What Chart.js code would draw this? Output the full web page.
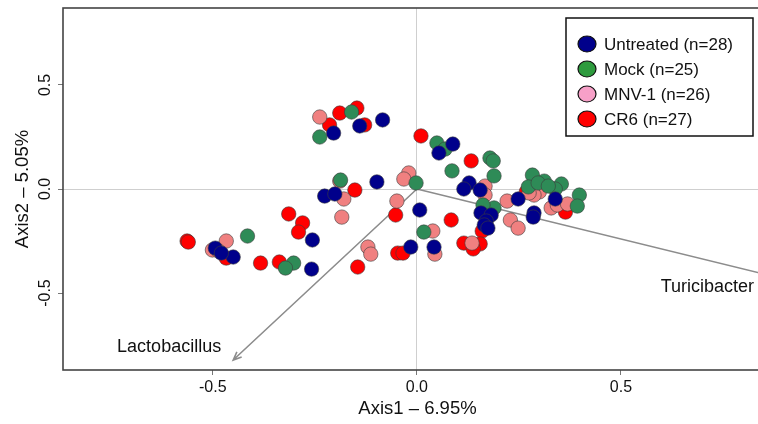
<!DOCTYPE html>
<html>
<head>
<meta charset="utf-8">
<script src="https://cdn.jsdelivr.net/npm/chart.js@4.4.1/dist/chart.umd.min.js"></script>
<style>
  html, body { margin: 0; padding: 0; background: #fff; overflow: hidden; }
</style>
</head>
<body>
<canvas id="pcoa" width="780" height="424"></canvas>
<script>
// PCoA sample scores
var untreated = [
  [-0.204, 0.269], [-0.140, 0.303], [-0.084, 0.332], [-0.098, 0.034], [-0.226, -0.034],
  [-0.201, -0.024], [0.007, -0.101], [-0.256, -0.245], [-0.494, -0.284], [-0.450, -0.327],
  [-0.258, -0.385], [-0.015, -0.279], [0.042, -0.279], [0.088, 0.216], [0.054, 0.173],
  [0.128, 0.029], [0.115, 0.000], [0.155, -0.005], [0.157, -0.115], [0.182, -0.125],
  [0.170, -0.154], [0.165, -0.173], [0.248, -0.048], [0.339, -0.048], [0.287, -0.115],
  [0.285, -0.135], [-0.479, -0.308], [0.174, -0.188]
];
var mock = [
  [-0.160, 0.370], [-0.238, 0.250], [-0.187, 0.043], [-0.002, 0.029], [-0.415, -0.226],
  [-0.302, -0.356], [-0.322, -0.380], [0.049, 0.221], [0.069, 0.192], [0.179, 0.149],
  [0.187, 0.135], [0.086, 0.087], [0.189, 0.063], [0.283, 0.067], [0.312, 0.038],
  [0.354, 0.024], [0.339, 0.000], [0.398, -0.029], [0.393, -0.082], [0.189, -0.091],
  [0.017, -0.207], [0.273, 0.010], [0.297, 0.029], [0.162, -0.077], [0.322, 0.014]
];
var mnv1 = [
  [-0.238, 0.346], [-0.189, 0.038], [-0.020, 0.077], [-0.032, 0.048], [-0.179, -0.048],
  [-0.184, -0.135], [-0.049, -0.058], [-0.467, -0.250], [-0.501, -0.293], [-0.486, -0.298],
  [-0.120, -0.279], [-0.113, -0.313], [0.167, 0.014], [0.167, -0.029], [0.221, -0.058],
  [0.039, -0.202], [0.044, -0.313], [0.135, -0.260], [0.300, -0.014], [0.287, -0.029],
  [0.275, -0.019], [0.329, -0.091], [0.344, -0.077], [0.369, -0.072], [0.229, -0.149],
  [0.248, -0.188]
];
var cr6 = [
  [-0.189, 0.365], [-0.147, 0.389], [-0.214, 0.308], [-0.128, 0.308], [0.010, 0.255],
  [-0.152, -0.005], [-0.052, -0.125], [-0.314, -0.120], [-0.280, -0.163], [-0.290, -0.207],
  [-0.563, -0.250], [-0.467, -0.332], [-0.383, -0.356], [-0.337, -0.351], [-0.145, -0.375],
  [-0.047, -0.308], [-0.034, -0.308], [0.133, 0.135], [0.084, -0.149], [0.160, -0.202],
  [0.115, -0.260], [0.155, -0.264], [0.138, -0.288], [0.285, 0.019], [0.268, -0.014],
  [0.364, -0.111], [-0.560, -0.255]
];

var groupNames = ['Untreated (n=28)', 'Mock (n=25)', 'MNV-1 (n=26)', 'CR6 (n=27)'];
var pointColors = ['#00008b', '#2e8b57', '#f08080', '#ff0000'];
var legendColors = ['#00008b', '#2e9b3e', '#f7a0c8', '#ff0000'];

// taxon loadings (arrow tips) and where their names sit
var taxa = ['Lactobacillus', 'Turicibacter'];
var loadings = [[-0.450, -0.822], [0.880, -0.423]];
var taxonLabelAt = [[-0.607, -0.760], [0.826, -0.471]];
var taxonAlign = ['center', 'right'];

var xTicks = [-0.5, 0, 0.5];
var yTicks = [-0.5, 0, 0.5];
var xRange = [-0.867, 0.870];
var yRange = [-0.870, 0.870];

function toPts(arr) {
  return arr.map(function (p) { return { x: p[0], y: p[1] }; });
}

var biplot = {
  id: 'biplot',
  beforeDatasetsDraw: function (chart) {
    var ctx = chart.ctx, xs = chart.scales.x, ys = chart.scales.y, a = chart.chartArea;
    ctx.save();
    ctx.beginPath();
    ctx.rect(a.left, a.top, a.right - a.left, a.bottom - a.top);
    ctx.clip();
    ctx.strokeStyle = '#8c8c8c';
    ctx.lineWidth = 1.6;
    var x0 = xs.getPixelForValue(0), y0 = ys.getPixelForValue(0);
    loadings.forEach(function (l) {
      var x1 = xs.getPixelForValue(l[0]), y1 = ys.getPixelForValue(l[1]);
      var ang = Math.atan2(y1 - y0, x1 - x0);
      ctx.beginPath();
      ctx.moveTo(x0, y0);
      ctx.lineTo(x1, y1);
      ctx.moveTo(x1 - 9 * Math.cos(ang - 0.4), y1 - 9 * Math.sin(ang - 0.4));
      ctx.lineTo(x1, y1);
      ctx.lineTo(x1 - 9 * Math.cos(ang + 0.4), y1 - 9 * Math.sin(ang + 0.4));
      ctx.stroke();
    });
    ctx.restore();
  },
  afterDraw: function (chart) {
    var ctx = chart.ctx, xs = chart.scales.x, ys = chart.scales.y, a = chart.chartArea;
    ctx.save();
    // taxon names
    ctx.fillStyle = '#111';
    ctx.font = '18px "Liberation Sans", Arial, sans-serif';
    ctx.textBaseline = 'middle';
    taxa.forEach(function (t, i) {
      ctx.textAlign = taxonAlign[i];
      ctx.fillText(t, xs.getPixelForValue(taxonLabelAt[i][0]), ys.getPixelForValue(taxonLabelAt[i][1]));
    });
    // frame
    ctx.strokeStyle = '#444';
    ctx.lineWidth = 1.6;
    ctx.strokeRect(a.left, a.top, a.right - a.left, a.bottom - a.top);
    // rotated y tick labels
    ctx.font = '16px "Liberation Sans", Arial, sans-serif';
    ctx.fillStyle = '#111';
    ctx.textAlign = 'center';
    yTicks.forEach(function (v) {
      ctx.save();
      ctx.translate(46, ys.getPixelForValue(v));
      ctx.rotate(-Math.PI / 2);
      ctx.fillText(v.toFixed(1), 0, 0);
      ctx.restore();
    });
    // legend box
    ctx.fillStyle = '#fff';
    ctx.fillRect(566, 18, 187, 118);
    ctx.strokeStyle = '#111';
    ctx.lineWidth = 1.5;
    ctx.strokeRect(566, 18, 187, 118);
    ctx.font = '17px "Liberation Sans", Arial, sans-serif';
    ctx.textAlign = 'left';
    chart.data.datasets.forEach(function (ds, i) {
      var cy = 44 + i * 25;
      ctx.beginPath();
      ctx.ellipse(587, cy, 9, 8, 0, 0, Math.PI * 2);
      ctx.fillStyle = legendColors[i];
      ctx.fill();
      ctx.lineWidth = 1.2;
      ctx.strokeStyle = '#111';
      ctx.stroke();
      ctx.fillStyle = '#111';
      ctx.fillText(ds.label, 604, cy + 1);
    });
    ctx.restore();
  }
};

var groups = [untreated, mock, mnv1, cr6];

new Chart(document.getElementById('pcoa'), {
  type: 'scatter',
  data: {
    datasets: groups.map(function (g, i) {
      return {
        label: groupNames[i],
        data: toPts(g),
        backgroundColor: pointColors[i],
        borderColor: 'rgba(60,60,60,0.75)',
        borderWidth: 0.8,
        pointRadius: 7.2,
        pointHoverRadius: 7.2
      };
    })
  },
  options: {
    responsive: false,
    animation: false,
    layout: { padding: { top: 8, right: 2, left: 0, bottom: 0 } },
    plugins: { legend: { display: false }, tooltip: { enabled: false } },
    scales: {
      x: {
        type: 'linear',
        min: xRange[0], max: xRange[1],
        afterBuildTicks: function (s) { s.ticks = xTicks.map(function (v) { return { value: v }; }); },
        afterFit: function (s) { s.height = 54; },
        border: { display: false },
        grid: {
          color: function (c) { return c.tick && c.tick.value === 0 ? '#cfcfcf' : 'rgba(0,0,0,0)'; },
          borderDash: [2, 2],
          tickColor: '#777',
          tickLength: 5,
          tickBorderDash: []
        },
        ticks: {
          color: '#111',
          padding: 3,
          maxRotation: 0,
          font: { family: '"Liberation Sans", Arial, sans-serif', size: 16 },
          callback: function (v) { return Number(v).toFixed(1); }
        },
        title: {
          display: true,
          text: 'Axis1 \u2013 6.95%',
          color: '#111',
          padding: { top: 0, bottom: 4 },
          font: { family: '"Liberation Sans", Arial, sans-serif', size: 18.5 }
        }
      },
      y: {
        type: 'linear',
        min: yRange[0], max: yRange[1],
        afterBuildTicks: function (s) { s.ticks = yTicks.map(function (v) { return { value: v }; }); },
        afterFit: function (s) { s.width = 63; },
        border: { display: false },
        grid: {
          color: function (c) { return c.tick && c.tick.value === 0 ? '#cfcfcf' : 'rgba(0,0,0,0)'; },
          borderDash: [2, 2],
          tickColor: '#777',
          tickLength: 5,
          tickBorderDash: []
        },
        ticks: { display: false },
        title: {
          display: true,
          text: 'Axis2 \u2013 5.05%',
          color: '#111',
          padding: { top: 12, bottom: 0 },
          font: { family: '"Liberation Sans", Arial, sans-serif', size: 18.5 }
        }
      }
    }
  },
  plugins: [biplot]
});
</script>
</body>
</html>
